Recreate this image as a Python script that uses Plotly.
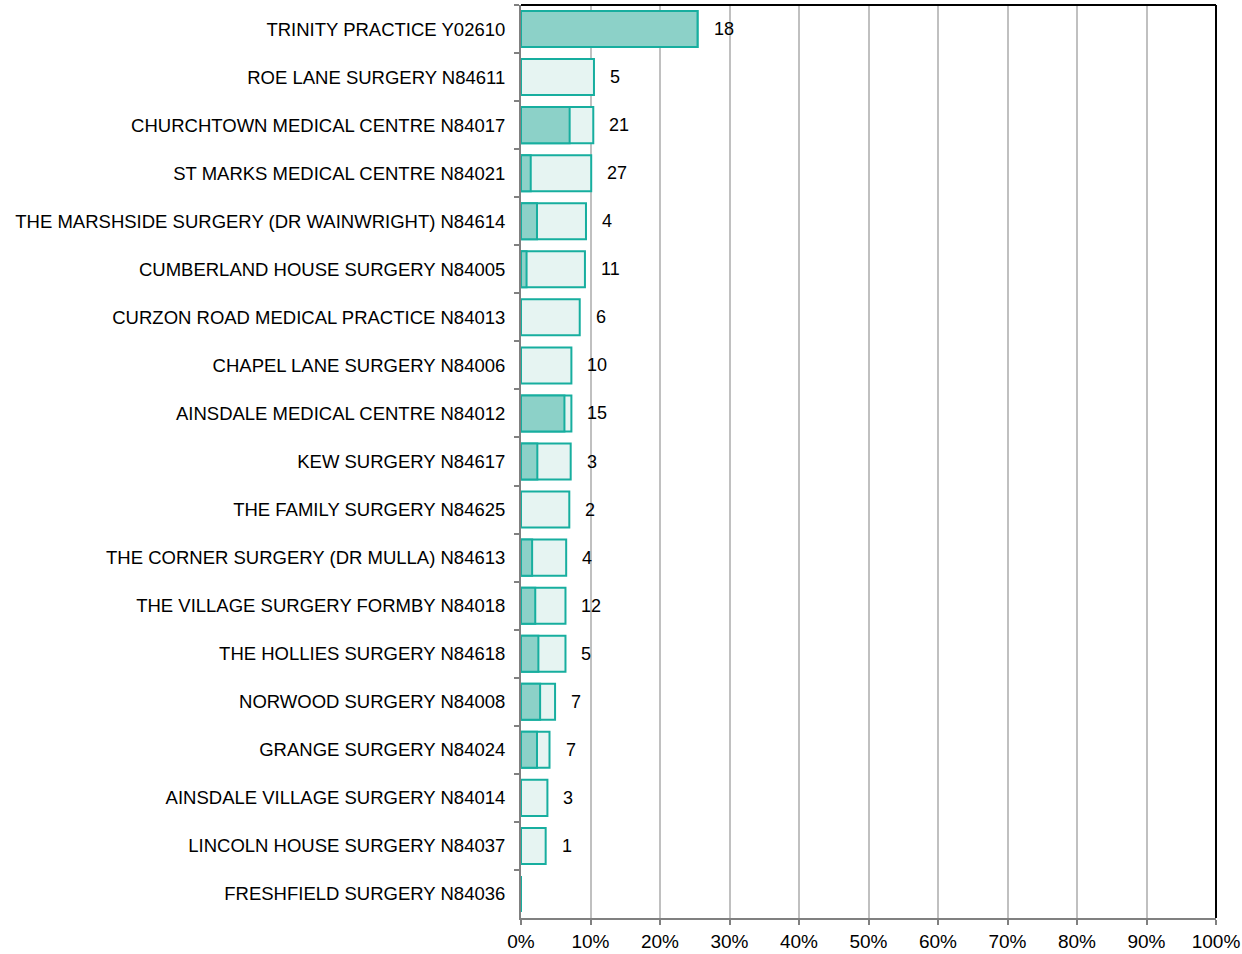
import plotly.graph_objects as go

# Practices, top to bottom as drawn
practices = [
    "TRINITY PRACTICE Y02610",
    "ROE LANE SURGERY N84611",
    "CHURCHTOWN MEDICAL CENTRE N84017",
    "ST MARKS MEDICAL CENTRE N84021",
    "THE MARSHSIDE SURGERY (DR WAINWRIGHT) N84614",
    "CUMBERLAND HOUSE SURGERY N84005",
    "CURZON ROAD MEDICAL PRACTICE N84013",
    "CHAPEL LANE SURGERY N84006",
    "AINSDALE MEDICAL CENTRE N84012",
    "KEW SURGERY N84617",
    "THE FAMILY SURGERY N84625",
    "THE CORNER SURGERY (DR MULLA) N84613",
    "THE VILLAGE SURGERY FORMBY N84018",
    "THE HOLLIES SURGERY N84618",
    "NORWOOD SURGERY N84008",
    "GRANGE SURGERY N84024",
    "AINSDALE VILLAGE SURGERY N84014",
    "LINCOLN HOUSE SURGERY N84037",
    "FRESHFIELD SURGERY N84036",
]

# overall share (light bar) and the darker sub-share
total_pct = [0.254, 0.105, 0.104, 0.101, 0.0935, 0.092, 0.0845, 0.0725, 0.0725, 0.0715,
             0.0695, 0.065, 0.064, 0.064, 0.049, 0.041, 0.038, 0.0355, 0.0]
part_pct = [0.254, 0.0, 0.070, 0.014, 0.023, 0.008, 0.0, 0.0, 0.0625, 0.0235,
            0.0, 0.016, 0.0205, 0.025, 0.0275, 0.023, 0.0, 0.0, 0.0]
counts = ["18", "5", "21", "27", "4", "11", "6", "10", "15", "3",
          "2", "4", "12", "5", "7", "7", "3", "1", ""]

teal = "#17AE9F"

fig = go.Figure()
fig.add_trace(go.Bar(
    y=practices, x=total_pct, orientation="h", width=0.75,
    marker=dict(color="#E6F4F2", line=dict(color=teal, width=2)),
    showlegend=False, hoverinfo="skip",
))
fig.add_trace(go.Bar(
    y=practices, x=part_pct, orientation="h", width=0.75,
    marker=dict(color="#8CD1C8", line=dict(color=teal, width=2)),
    showlegend=False, hoverinfo="skip",
))

# count labels to the right of each bar
for p, v, c in zip(practices, total_pct, counts):
    if c:
        fig.add_annotation(x=v, y=p, text=c, showarrow=False, xanchor="left",
                           xshift=14, font=dict(size=18, color="#000000"))

# black frame on top and right
fig.add_shape(type="line", xref="paper", yref="paper", x0=0, x1=1, y0=1, y1=1,
              line=dict(color="#000000", width=2))
fig.add_shape(type="line", xref="paper", yref="paper", x0=1, x1=1, y0=0, y1=1,
              line=dict(color="#000000", width=2))

fig.update_layout(
    barmode="overlay",
    width=1242, height=954,
    margin=dict(l=521, r=26, t=5, b=36),
    plot_bgcolor="white", paper_bgcolor="white",
    font=dict(family="Liberation Sans, Arial, sans-serif", color="#000000"),
)
fig.update_xaxes(
    range=[0, 1], dtick=0.1, tickformat=".0%", automargin=False,
    showgrid=True, gridcolor="#C0C0C0", gridwidth=2,
    showline=True, linecolor="#808080", linewidth=2,
    ticks="outside", tickcolor="#808080", ticklen=5, tickwidth=1.5,
    tickfont=dict(size=19), zeroline=False,
)
fig.update_yaxes(
    autorange="reversed", tickson="boundaries", automargin=False,
    showline=True, linecolor="#808080", linewidth=2,
    ticks="outside", tickcolor="#808080", ticklen=5, tickwidth=1.5,
    tickfont=dict(size=18.5), showgrid=False, ticklabelstandoff=10,
)

fig.write_html("out.html", config={"displayModeBar": False},
               post_script="document.body.style.margin='0';")
